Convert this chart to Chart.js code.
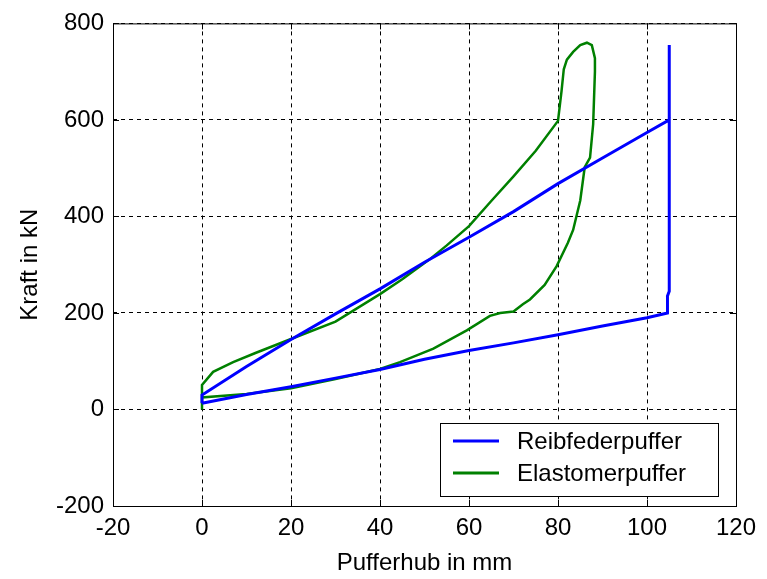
<!DOCTYPE html>
<html>
<head>
<meta charset="utf-8">
<title>Pufferkennlinien</title>
<script src="https://cdn.jsdelivr.net/npm/chart.js@4.4.1/dist/chart.umd.min.js"></script>
<style>
  body { margin: 0; background: #fff; }
  #wrap { width: 767px; height: 579px; }
</style>
</head>
<body>
<div id="wrap"><canvas id="pufferChart" width="767" height="579"></canvas></div>
<script>
// Series names
const seriesNames = ['Reibfederpuffer', 'Elastomerpuffer'];

// Reibfederpuffer (stroke in mm, force in kN)
const reibX = [0, 0, 10, 20, 30, 40, 50, 60, 70, 80, 90, 100, 105, 105, 105, 104.6, 104.6, 100, 90, 80, 70, 60, 50, 40, 30, 20, 10, 0];
const reibY = [13, 30, 89, 145, 198, 250, 305, 357, 410, 468, 521, 574, 600, 755, 245, 235, 200, 190, 173, 155, 138, 122, 104, 83, 65, 47, 31, 13];

// Elastomerpuffer (stroke in mm, force in kN)
const elastX = [0, 0, 2.5, 7, 12, 20, 30, 40, 45, 51, 55, 60, 65, 70, 75, 80, 80.8, 81.3, 82, 83.4, 85, 86.5, 87.6, 88.3, 88.3, 87.9, 87.2, 86, 85, 83.4, 82.2, 79.7, 77, 73.7, 72.1, 70, 67, 64.7, 59.5, 52, 44.5, 40, 30, 20, 10, 0, 0];
const elastY = [0, 51, 78, 98, 117, 146, 182, 239, 270, 310, 340, 380, 432, 483, 536, 598, 660, 705, 725, 741, 755, 760, 755, 728, 700, 591, 522, 502, 433, 372, 345, 297, 258, 228, 218, 203, 200, 194, 164, 126, 98, 84, 63, 44, 32, 25, 0];

// Axis ticks
const xTicks = [-20, 0, 20, 40, 60, 80, 100, 120];
const yTicks = [-200, 0, 200, 400, 600, 800];

const seriesColors = ['#0000ff', '#008000'];

function toPoints(xs, ys) {
    return xs.map((x, i) => ({ x: x, y: ys[i] }));
}

// frame, inner tick marks and legend box (MATLAB look)
const matlabFrame = {
    id: 'matlabFrame',
    afterDatasetsDraw(chart) {
        const ctx = chart.ctx;
        const a = chart.chartArea;
        const sx = chart.scales.x, sy = chart.scales.y;
        ctx.save();
        ctx.strokeStyle = '#000';
        ctx.lineWidth = 1;
        ctx.setLineDash([]);
        ctx.strokeRect(a.left + 0.5, a.top + 0.5, a.right - a.left, a.bottom - a.top);
        ctx.beginPath();
        xTicks.forEach(v => {
            const px = Math.round(sx.getPixelForValue(v)) + 0.5;
            ctx.moveTo(px, a.bottom); ctx.lineTo(px, a.bottom - 6);
            ctx.moveTo(px, a.top); ctx.lineTo(px, a.top + 6);
        });
        yTicks.forEach(v => {
            const py = Math.round(sy.getPixelForValue(v)) + 0.5;
            ctx.moveTo(a.left, py); ctx.lineTo(a.left + 6, py);
            ctx.moveTo(a.right, py); ctx.lineTo(a.right - 6, py);
        });
        ctx.stroke();

        // legend box in lower right corner
        const bw = 278, bh = 73;
        const bx = a.right - 18 - bw, by = a.bottom - 10 - bh;
        ctx.fillStyle = '#fff';
        ctx.fillRect(bx, by, bw, bh);
        ctx.strokeRect(bx + 0.5, by + 0.5, bw, bh);
        ctx.font = '24px "Liberation Sans", Arial, sans-serif';
        ctx.textBaseline = 'middle';
        ctx.textAlign = 'left';
        chart.data.datasets.forEach((ds, i) => {
            const cy = by + 18 + i * 32;
            ctx.strokeStyle = ds.borderColor;
            ctx.lineWidth = 3;
            ctx.beginPath();
            ctx.moveTo(bx + 13, cy); ctx.lineTo(bx + 59, cy);
            ctx.stroke();
            ctx.fillStyle = '#000';
            ctx.fillText(ds.label, bx + 77, cy + 1);
        });
        ctx.restore();
    }
};

const pufferData = {
    datasets: [{
        label: seriesNames[0],
        data: toPoints(reibX, reibY),
        borderColor: seriesColors[0],
        borderWidth: 3
    }, {
        label: seriesNames[1],
        data: toPoints(elastX, elastY),
        borderColor: seriesColors[1],
        borderWidth: 2.5
    }]
};

const tickFont = { family: '"Liberation Sans", Arial, sans-serif', size: 24 };

const pufferConfig = {
    type: 'scatter',
    data: pufferData,
    options: {
        responsive: false,
        animation: false,
        showLine: true,
        elements: {
            point: { radius: 0 },
            line: { tension: 0, fill: false }
        },
        layout: { padding: { left: 0, top: 17, right: 31, bottom: 0 } },
        plugins: {
            legend: { display: false },
            tooltip: { enabled: false }
        },
        scales: {
            x: {
                type: 'linear',
                min: -20,
                max: 120,
                afterBuildTicks: s => { s.ticks = xTicks.map(v => ({ value: v })); },
                afterFit: s => { s.height = 73; },
                ticks: { color: '#000', font: tickFont, padding: 8, autoSkip: false, maxRotation: 0 },
                grid: { color: '#000', lineWidth: 1, drawTicks: false },
                border: { display: false, dash: [4, 4] },
                title: { display: true, text: 'Pufferhub in mm', color: '#000', font: tickFont, padding: { top: 0, bottom: 1 } }
            },
            y: {
                type: 'linear',
                min: -200,
                max: 800,
                afterBuildTicks: s => { s.ticks = yTicks.map(v => ({ value: v })); },
                afterFit: s => { s.width = 113; },
                ticks: { color: '#000', font: tickFont, padding: 9, autoSkip: false },
                grid: { color: '#000', lineWidth: 1, drawTicks: false },
                border: { display: false, dash: [4, 4] },
                title: { display: true, text: 'Kraft in kN', color: '#000', font: tickFont, padding: { top: 16, bottom: 0 } }
            }
        }
    },
    plugins: [matlabFrame]
};

window.onload = function() {
    const ctx = document.getElementById('pufferChart').getContext('2d');
    new Chart(ctx, pufferConfig);
};
</script>
</body>
</html>
